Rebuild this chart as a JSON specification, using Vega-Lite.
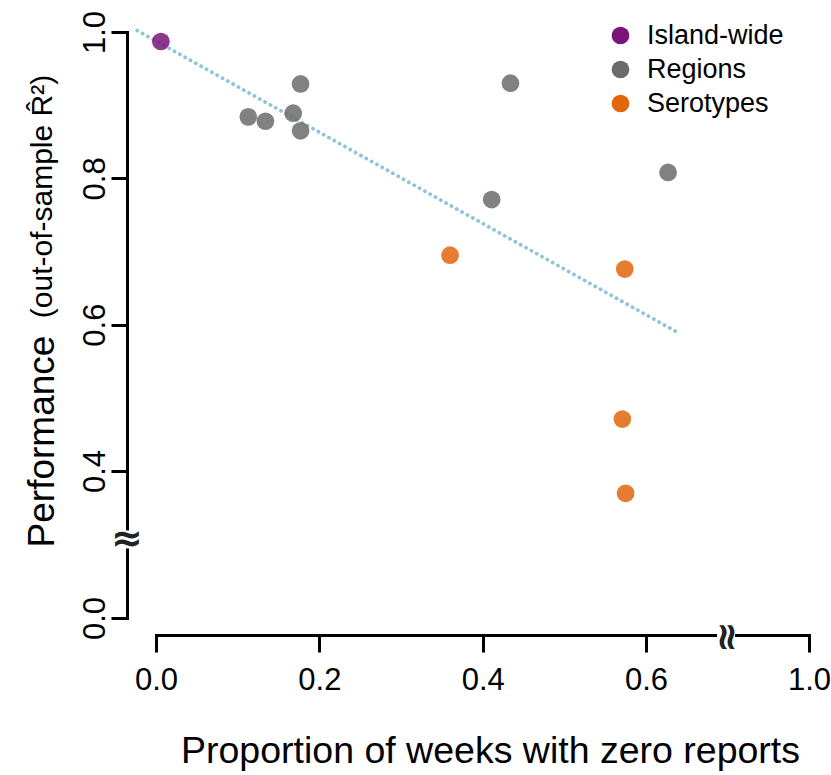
{
  "$schema": "https://vega.github.io/schema/vega-lite/v6.json",
  "width": 704,
  "height": 635,
  "autosize": {"type": "none"},
  "padding": {"left": 127, "top": 0, "right": 0, "bottom": 140},
  "background": "white",
  "config": {
    "font": "Liberation Sans",
    "view": {"stroke": null},
    "axis": {
      "grid": false,
      "domainColor": "black",
      "domainWidth": 3,
      "domainCap": "square",
      "tickColor": "black",
      "tickWidth": 3,
      "labelColor": "black",
      "titleColor": "black",
      "labelFont": "Liberation Sans",
      "titleFont": "Liberation Sans",
      "titleFontWeight": "normal",
      "labelFlush": false,
      "labelOverlap": false
    }
  },
  "resolve": {"scale": {"y": "independent"}},
  "layer": [
    {
      "data": {"values": [{"x": -0.023, "y": 1.002}, {"x": 0.641, "y": 0.588}]},
      "mark": {"type": "line", "color": "#8ec5d9", "strokeWidth": 3.8, "strokeDash": [0.1, 6], "strokeCap": "round"},
      "encoding": {
        "x": {
          "field": "x", "type": "quantitative",
          "scale": {"domain": [0, 0.7, 1], "range": [29, 600.7, 682], "zero": false, "nice": false},
          "axis": {
            "values": [0, 0.2, 0.4, 0.6, 1.0], "format": ".1f",
            "tickSize": 17, "labelPadding": 13, "labelFontSize": 31, "labelFlush": false,
            "title": "Proportion of weeks with zero reports",
            "titleFontSize": 37.5, "titleX": 363, "titleY": 127,
            "titleAlign": "center", "titleBaseline": "alphabetic"
          }
        },
        "y": {
          "field": "y", "type": "quantitative",
          "scale": {"domain": [0, 0.3, 1], "range": [618, 544.15, 32], "zero": false, "nice": false},
          "axis": {
            "orient": "left", "domain": false, "ticks": false, "labels": false,
            "title": "(out-of-sample R̂²)", "titleFontSize": 30, "titleAngle": 270,
            "titleAlign": "center", "titleBaseline": "alphabetic",
            "titleX": -76, "titleY": 196
          }
        }
      }
    },
    {
      "data": {"values": [
        {"x": 0.113, "y": 0.884, "group": "Regions"},
        {"x": 0.134, "y": 0.878, "group": "Regions"},
        {"x": 0.168, "y": 0.889, "group": "Regions"},
        {"x": 0.177, "y": 0.929, "group": "Regions"},
        {"x": 0.177, "y": 0.865, "group": "Regions"},
        {"x": 0.434, "y": 0.930, "group": "Regions"},
        {"x": 0.411, "y": 0.771, "group": "Regions"},
        {"x": 0.627, "y": 0.808, "group": "Regions"},
        {"x": 0.360, "y": 0.695, "group": "Serotypes"},
        {"x": 0.574, "y": 0.676, "group": "Serotypes"},
        {"x": 0.571, "y": 0.471, "group": "Serotypes"},
        {"x": 0.575, "y": 0.3695, "group": "Serotypes"},
        {"x": 0.006, "y": 0.987, "group": "Island-wide"}
      ]},
      "mark": {"type": "point", "filled": true, "shape": "circle", "size": 314, "opacity": 0.85, "strokeWidth": 0},
      "encoding": {
        "x": {"field": "x", "type": "quantitative"},
        "y": {
          "field": "y", "type": "quantitative",
          "scale": {"domain": [0, 0.3, 1], "range": [618, 544.15, 32], "zero": false, "nice": false},
          "axis": {
            "orient": "left",
            "values": [0, 0.4, 0.6, 0.8, 1.0], "format": ".1f",
            "tickSize": 16, "labelAngle": 270, "labelAlign": "center", "labelBaseline": "alphabetic",
            "labelPadding": 7, "labelFontSize": 31, "labelFlush": false,
            "title": "Performance", "titleFontSize": 37, "titleAngle": 270,
            "titleAlign": "center", "titleBaseline": "alphabetic",
            "titleX": -74, "titleY": 441
          }
        },
        "color": {
          "field": "group", "type": "nominal",
          "scale": {"domain": ["Island-wide", "Regions", "Serotypes"], "range": ["#7a1479", "#6b6b6b", "#e0650c"]},
          "legend": {
            "orient": "none", "legendX": 480, "legendY": 22, "title": null,
            "labelFontSize": 27, "labelColor": "black", "labelFont": "Liberation Sans",
            "symbolSize": 314, "symbolType": "circle", "symbolStrokeWidth": 0, "symbolOpacity": 1,
            "labelOffset": 13, "rowPadding": 6, "padding": 0
          }
        }
      }
    },
    {
      "data": {"values": [{}]},
      "mark": {"type": "point", "shape": "square", "filled": true, "color": "white", "opacity": 1, "size": 324, "strokeWidth": 0},
      "encoding": {
        "x": {"datum": -0.0355, "type": "quantitative"},
        "y": {"datum": 0.3064, "type": "quantitative", "scale": {"domain": [0, 0.3, 1], "range": [618, 544.15, 32], "zero": false, "nice": false}, "axis": null}
      }
    },
    {
      "data": {"values": [{}]},
      "mark": {"type": "point", "shape": "square", "filled": true, "color": "white", "opacity": 1, "size": 324, "strokeWidth": 0},
      "encoding": {
        "x": {"datum": 0.698, "type": "quantitative"},
        "y": {"datum": -0.0775, "type": "quantitative", "scale": {"domain": [0, 0.3, 1], "range": [618, 544.15, 32], "zero": false, "nice": false}, "axis": null}
      }
    },
    {
      "data": {"values": [{}]},
      "mark": {"type": "text", "text": "≈", "font": "DejaVu Sans", "fontWeight": "bold", "fontSize": 38, "color": "#222222", "align": "center", "baseline": "middle", "angle": 0, "dy": 1},
      "encoding": {
        "x": {"datum": -0.0355, "type": "quantitative"},
        "y": {"datum": 0.3064, "type": "quantitative", "scale": {"domain": [0, 0.3, 1], "range": [618, 544.15, 32], "zero": false, "nice": false}, "axis": null}
      }
    },
    {
      "data": {"values": [{}]},
      "mark": {"type": "text", "text": "≈", "font": "DejaVu Sans", "fontWeight": "bold", "fontSize": 38, "color": "#222222", "align": "center", "baseline": "middle", "angle": 90},
      "encoding": {
        "x": {"datum": 0.698, "type": "quantitative"},
        "y": {"datum": -0.0775, "type": "quantitative", "scale": {"domain": [0, 0.3, 1], "range": [618, 544.15, 32], "zero": false, "nice": false}, "axis": null}
      }
    }
  ]
}
